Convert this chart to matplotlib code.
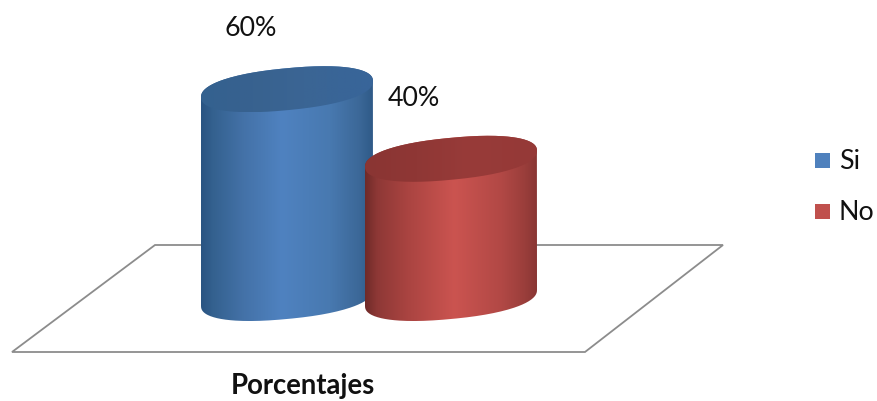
import numpy as np
import matplotlib
matplotlib.use("Agg")
import matplotlib.pyplot as plt
from matplotlib.colors import LinearSegmentedColormap
from matplotlib.path import Path
from matplotlib.patches import PathPatch, Polygon, Rectangle

categories = ["Si", "No"]
values = [60, 40]
value_labels = ["60%", "40%"]
axis_label = "Porcentajes"
mid_colors = ["#4f81bd", "#c0504d"]
body_stops = [
    [(0, "#2a5482"), (0.07, "#34618f"), (0.25, "#4472a8"), (0.47, "#4f82c0"), (0.75, "#4879b0"), (0.92, "#3c6898"), (1, "#2f5a88")],
    [(0, "#6f2a28"), (0.07, "#8e3836"), (0.25, "#aa4441"), (0.52, "#cb5450"), (0.8, "#b14845"), (0.93, "#9a3e3b"), (1, "#8a3634")],
]
top_stops = [
    [(0, "#34618f"), (0.3, "#38628f"), (0.6, "#3b6594"), (1, "#38659a")],
    [(0, "#8a3533"), (0.3, "#8f3735"), (0.6, "#983b39"), (1, "#953937")],
]
bar_centres = [287, 451]
base_y = 298
px_per_unit = 3.48
half_w = 86
semi = 21
tilt = 8
floor = [(155, 245), (723, 245), (585, 352), (12, 352)]

fig = plt.figure(figsize=(8.78, 4.01), dpi=100)
ax = fig.add_axes([0, 0, 1, 1])
ax.axis("off")
font = ["Lato", "DejaVu Sans"]

ax.add_patch(Polygon(floor, closed=True, fc="white", ec="#8c8c8c", lw=1.3, zorder=1))


def ell(cx, cy, t):
    c = np.cos(t)
    s = np.sin(t)
    c = np.sign(c) * np.abs(c) ** 0.88
    s = np.sign(s) * np.abs(s) ** 0.88
    return np.c_[cx + half_w * c, cy - semi * s - tilt * c]


def fill(verts, stops, z):
    x0, x1 = verts[:, 0].min(), verts[:, 0].max()
    y0, y1 = verts[:, 1].min(), verts[:, 1].max()
    cmap = LinearSegmentedColormap.from_list("g", stops)
    im = ax.imshow(np.linspace(0, 1, 256)[None, :], cmap=cmap, extent=(x0, x1, y1, y0),
                   aspect="auto", zorder=z, interpolation="bilinear")
    p = PathPatch(Path(np.vstack([verts, verts[:1]])), transform=ax.transData, fc="none", ec="none")
    ax.add_patch(p)
    im.set_clip_path(p)


for i, v in enumerate(values):
    cx = bar_centres[i]
    top = base_y - v * px_per_unit
    lower = ell(cx, base_y, np.linspace(np.pi, 2 * np.pi, 120))
    upper = ell(cx, top, np.linspace(0, np.pi, 120))
    fill(np.vstack([lower, upper]), body_stops[i], 2 + i * 2)
    fill(ell(cx, top, np.linspace(0, 2 * np.pi, 240)), top_stops[i], 3 + i * 2)

ax.text(251, 29, value_labels[0], fontsize=19.3, family=font, ha="center", va="center", color="#111111", zorder=8)
ax.text(414, 98, value_labels[1], fontsize=19.3, family=font, ha="center", va="center", color="#111111", zorder=8)
ax.text(303, 386, axis_label, fontsize=19.8, family=font, weight="bold", ha="center", va="center", color="#111111")

for name, c, y in zip(categories, mid_colors, [160.5, 211.5]):
    ax.add_patch(Rectangle((815, y - 7.5), 15, 15, fc=c, ec="none"))
    ax.text(839, y + 1, name, fontsize=19.3, family=font, ha="left", va="center", color="#111111")

ax.set_xlim(0, 878)
ax.set_ylim(401, 0)
fig.savefig("out.png", dpi=100)
